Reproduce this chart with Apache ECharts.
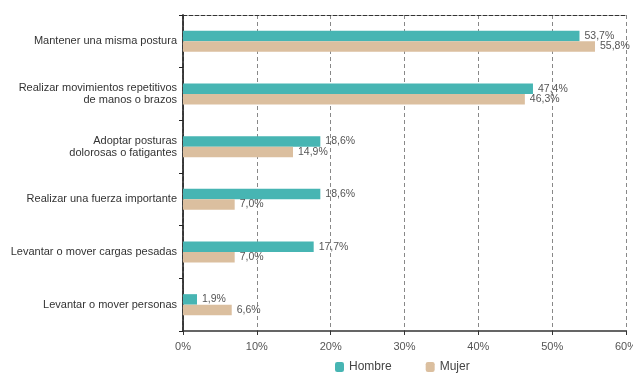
<!DOCTYPE html>
<html>
<head>
<meta charset="utf-8">
<script src="https://cdn.jsdelivr.net/npm/echarts@6/dist/echarts.min.js"></script>
<style>html,body{margin:0;padding:0;background:#fff}#c{width:633px;height:378px}</style>
</head>
<body>
<div id="c"></div>
<script>
var categories = [
  "Mantener una misma postura",
  "Realizar movimientos repetitivos\nde manos o brazos",
  "Adoptar posturas\ndolorosas o fatigantes",
  "Realizar una fuerza importante",
  "Levantar o mover cargas pesadas",
  "Levantar o mover personas"
];
var hombre = [53.7, 47.4, 18.6, 18.6, 17.7, 1.9];
var mujer = [55.8, 46.3, 14.9, 7.0, 7.0, 6.6];
var xTicks = [0, 10, 20, 30, 40, 50, 60];

var FONT = "Liberation Sans Narrow, Arial Narrow, Liberation Sans, sans-serif";
var chart = echarts.init(document.getElementById('c'));
function fmt(v){ return v.toFixed(1).replace('.', ',') + '%'; }
chart.setOption({
  animation: false,
  textStyle: { fontFamily: FONT },
  grid: { left: 183, right: 7, top: 15, bottom: 47, containLabel: false, outerBoundsMode: 'none' },
  legend: {
    bottom: 0, left: 330,
    itemWidth: 9, itemHeight: 10, itemGap: 34,
    textStyle: { fontSize: 12, color: '#444', fontFamily: FONT },
    data: ['Hombre', 'Mujer']
  },
  xAxis: [{
    type: 'value', min: xTicks[0], max: xTicks[xTicks.length-1], interval: 10,
    axisLine: { show: true, lineStyle: { color: '#333', width: 1.5 } },
    axisTick: { show: true, length: 4, lineStyle: { color: '#333' } },
    axisLabel: { formatter: '{value}%', fontSize: 11, color: '#555', margin: 10, fontFamily: FONT },
    splitLine: { show: true, lineStyle: { type: [4, 3], color: '#888', width: 1 } }
  }, {
    type: 'value', position: 'top', min: 0, max: 60, interval: 10,
    axisLine: { show: true, lineStyle: { type: [4, 2], color: '#333', width: 1 } },
    axisTick: { show: false }, axisLabel: { show: false }, splitLine: { show: false }
  }],
  yAxis: [{
    type: 'category', inverse: true, data: categories,
    axisLine: { show: true, lineStyle: { color: '#222', width: 1.5 } },
    axisTick: { show: true, length: 4, lineStyle: { color: '#222' } },
    axisLabel: { fontSize: 11, color: '#333', margin: 6, lineHeight: 12, align: 'right', fontFamily: FONT },
    splitLine: { show: false }
  }, {
    type: 'category', position: 'right', inverse: true, data: categories,
    axisLine: { show: true, lineStyle: { type: [4, 2], color: '#333', width: 1.5 } },
    axisTick: { show: false }, axisLabel: { show: false }, splitLine: { show: false }
  }],
  series: [{
    name: 'Hombre', type: 'bar', data: hombre, barWidth: 10.5, barGap: '0%',
    itemStyle: { color: '#47b5b3' },
    label: { show: true, position: 'right', distance: 5, fontSize: 10.5, color: '#555', formatter: function(p){ return fmt(p.value); } }
  }, {
    name: 'Mujer', type: 'bar', data: mujer, barWidth: 10.5,
    itemStyle: { color: '#dbbf9f' },
    label: { show: true, position: 'right', distance: 5, fontSize: 10.5, color: '#555', formatter: function(p){ return fmt(p.value); } }
  }]
});
</script>
</body>
</html>
